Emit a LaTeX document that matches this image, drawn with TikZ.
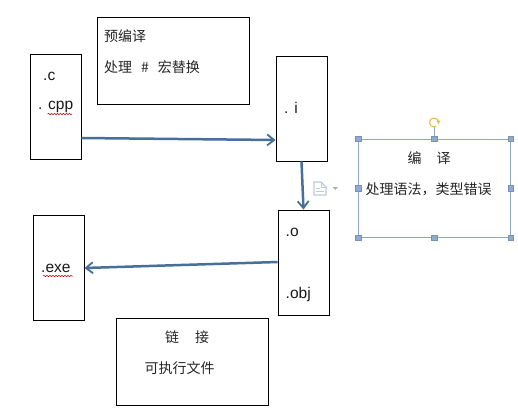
\documentclass[tikz,border=0pt]{standalone}
\usepackage{fontspec}
\setmainfont{Liberation Sans}
\newfontfamily\cjk{Noto Sans CJK SC}
\usetikzlibrary{arrows.meta,decorations.pathmorphing}
\definecolor{arrowblue}{HTML}{46709A}
\definecolor{selblue}{HTML}{8FA6C8}
\definecolor{handleblue}{HTML}{8FAAD6}
\definecolor{rotorange}{HTML}{E6B94F}
\definecolor{iconblue}{HTML}{BCCBDC}
\tikzset{
  box/.style={draw=black,line width=0.9pt,fill=white,minimum width=#1,inner sep=0pt},
  flow/.style={draw=arrowblue,line width=2.5pt,-{Straight Barb[length=7pt,width=11pt,line width=1.8pt]}},
  lat/.style={font=\fontsize{15.5}{16}\selectfont,text=black!90,inner sep=0pt,anchor=west},
  zh/.style={font=\cjk\fontsize{14}{15}\selectfont,text=black!85,inner sep=0pt,anchor=west},
  handle/.style={fill=handleblue,draw=handleblue!85!black,line width=0.3pt,minimum size=5.5pt,inner sep=0pt},
  squiggle/.style={draw=red!75!black,line width=0.5pt,decorate,decoration={snake,amplitude=0.7pt,segment length=3pt}}
}
\begin{document}
\begin{tikzpicture}[x=1pt,y=-1pt]
\useasboundingbox (0,0) rectangle (518,418);
\fill[white] (0,0) rectangle (518,418);
% boxes
\node[box=51pt,minimum height=105pt] (c) at (55.5,106.5) {};
\node[box=152pt,minimum height=87pt] (pre) at (173,60.5) {};
\node[box=51pt,minimum height=105pt] (i) at (301.5,108.5) {};
\node[draw=selblue,line width=0.9pt,fill=white,minimum width=151.5pt,minimum height=98pt,inner sep=0pt] (comp) at (434.25,188) {};
\node[box=51pt,minimum height=105pt] (o) at (303.5,262.5) {};
\node[box=51pt,minimum height=105pt] (exe) at (58.5,267.5) {};
\node[box=152pt,minimum height=87pt] (link) at (192,361.5) {};
% connectors
\draw[flow] ([yshift=-31.5pt]c.east) -- ([yshift=-31.5pt]i.west);
\draw[flow] (i.south) -- (o.north);
\draw[flow] ([yshift=0.5pt]o.west) -- ([yshift=-0.5pt]exe.east);
% texts
\node[lat] (tc) at (43,76) {.c};
\node[lat] (tcpp) at (38,107) {. cpp};
\node[zh] (t1) at (104,36) {预编译};
\node[zh] (t2) at (104,67) {处理\hspace{9pt}\#\hspace{9pt}宏替换};
\node[lat] (ti) at (284,108) {. i};
\node[lat] (to) at (285.5,232) {.o};
\node[lat] (tobj) at (285.5,294) {.obj};
\node[lat] (texe) at (41,268) {.exe};
\node[zh] (t3) at (165,337) {链\hspace{16pt}接};
\node[zh] (t4) at (144.5,368) {可执行文件};
\node[zh] (t5) at (407.5,158) {编\hspace{15pt}译};
\node[zh] (t6) at (365.5,189) {处理语法，类型错误};
% spell-check underlines
\draw[squiggle] (47.5,114) -- (72,114);
\draw[squiggle] (43,276) -- (73,276);
% selection handles
\draw[selblue,line width=0.9pt] (comp.north) -- ++(0,-12);
\foreach \a/\n in {north west/h1,north/h2,north east/h3,west/h4,east/h5,south west/h6,south/h7,south east/h8}
  \node[handle] (\n) at (comp.\a) {};
% rotate handle
\draw[draw=rotorange,line width=1.1pt] (438.5,122.5) arc[start angle=0,end angle=300,radius=4.5pt];
\fill[rotorange] (436.5,120.5) -- (440.5,120.5) -- (438.5,124) -- cycle;
% paste icon
\draw[fill=white,draw=iconblue,line width=1.1pt] (314,182) -- (321,182) -- (326,187) -- (326,195) -- (314,195) -- cycle;
\draw[iconblue,line width=0.8pt] (321,182) -- (321,187) -- (326,187) (316,188) -- (320,188) (316,191) -- (324,191);
\fill[black!30] (332.5,187) -- (338,187) -- (335.25,190) -- cycle;
\end{tikzpicture}
\end{document}
